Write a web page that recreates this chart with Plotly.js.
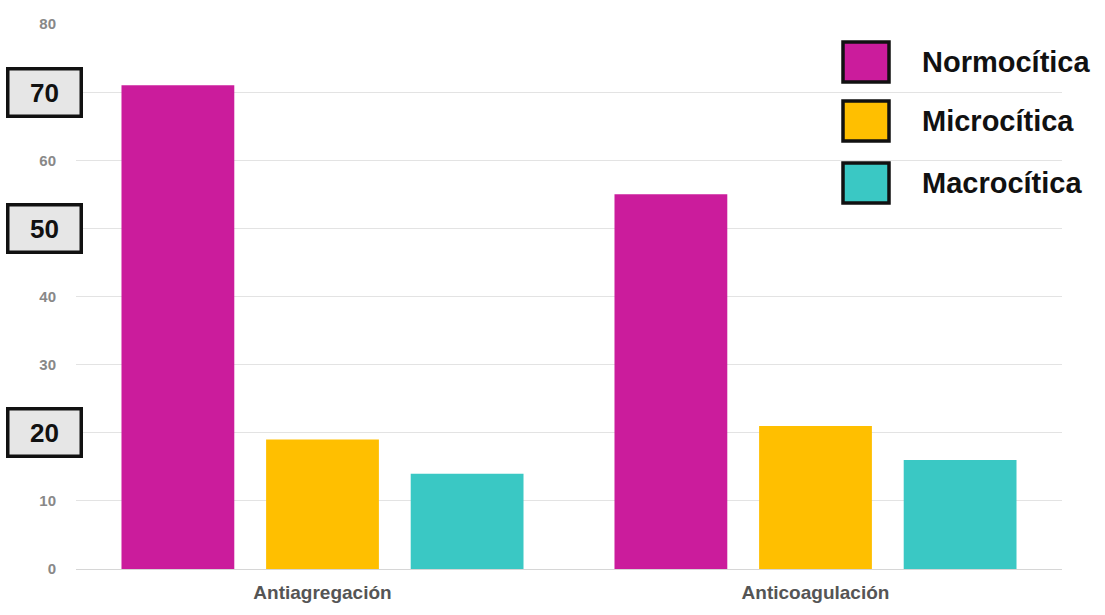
<!DOCTYPE html>
<html>
<head>
<meta charset="utf-8">
<script src="https://cdn.plot.ly/plotly-3.0.1.min.js"></script>
<style>
  html, body { margin: 0; padding: 0; background: #fff; }
  #chart { width: 1105px; height: 615px; }
</style>
</head>
<body>
<div id="chart"></div>
<script>
// Grupos de tratamiento y tipos de anemia
const categories = ['Antiagregación', 'Anticoagulación'];
const seriesNames = ['Normocítica', 'Microcítica', 'Macrocítica'];
const normocitica = [71, 55];
const microcitica = [19, 21];
const macrocitica = [14, 16];
const seriesValues = [normocitica, microcitica, macrocitica];
const seriesColors = ['#CB1C9C', '#FFBF00', '#3AC8C4'];

// Marcas del eje Y; las destacadas van en recuadro
const yTickVals = [0, 10, 20, 30, 40, 50, 60, 70, 80];
const yTickText = ['0', '10', '20', '30', '40', '50', '60', '70', '80'];
const highlightedTicks = [70, 50, 20];

const FONT = 'Liberation Sans, Arial, sans-serif';

const traces = seriesValues.map((vals, i) => ({
  type: 'bar',
  name: seriesNames[i],
  x: categories,
  y: vals,
  marker: { color: seriesColors[i] },
  hoverinfo: 'x+y+name',
  showlegend: false
}));

const plainText = yTickVals.map((v, i) => highlightedTicks.includes(v) ? '' : yTickText[i]);

const annotations = highlightedTicks.map(v => ({
  xref: 'paper', yref: 'y',
  x: -0.0315, y: v,
  xanchor: 'center', yanchor: 'middle',
  text: '<b>' + yTickText[yTickVals.indexOf(v)] + '</b>',
  showarrow: false,
  font: { family: FONT, size: 26, color: '#111' },
  bgcolor: '#E6E6E6',
  bordercolor: '#111',
  borderwidth: 3.5,
  borderpad: 2,
  width: 66,
  height: 40
}));

// Leyenda dibujada con cuadros grandes
const shapes = [];
const legendRowsPx = [62, 121, 183];
const plotL = 76, plotW = 986, plotB = 569, plotH = 545;
seriesNames.forEach((name, i) => {
  const cy = legendRowsPx[i];
  shapes.push({
    type: 'rect', xref: 'paper', yref: 'paper',
    x0: (843 - plotL) / plotW, x1: (889 - plotL) / plotW,
    y0: (plotB - (cy + 20)) / plotH, y1: (plotB - (cy - 20)) / plotH,
    fillcolor: seriesColors[i],
    line: { color: '#111', width: 3.5 }
  });
  annotations.push({
    xref: 'paper', yref: 'paper',
    x: (920 - plotL) / plotW, y: (plotB - cy) / plotH,
    xanchor: 'left', yanchor: 'middle',
    text: '<b>' + name + '</b>',
    showarrow: false,
    font: { family: FONT, size: 29, color: '#111' }
  });
});

const layout = {
  width: 1105, height: 615,
  margin: { l: 76, r: 43, t: 24, b: 46 },
  paper_bgcolor: '#fff',
  plot_bgcolor: '#fff',
  barmode: 'group',
  bargap: 0.12,
  bargroupgap: 0.22,
  showlegend: false,
  xaxis: {
    type: 'category',
    showgrid: false,
    showline: false,
    zeroline: false,
    ticks: '',
    ticklabelstandoff: 10,
    tickfont: { family: FONT, size: 19, color: '#555', weight: 'bold' }
  },
  yaxis: {
    range: [0, 80],
    tickvals: yTickVals,
    ticktext: plainText,
    showgrid: true,
    gridcolor: '#E3E3E3',
    gridwidth: 1,
    zeroline: true,
    zerolinecolor: '#D6D6D6',
    zerolinewidth: 1,
    showline: false,
    ticks: '',
    ticklabelstandoff: 19,
    tickfont: { family: FONT, size: 15, color: '#888', weight: 'bold' }
  },
  shapes: shapes,
  annotations: annotations
};

Plotly.newPlot('chart', traces, layout, { displayModeBar: false, staticPlot: true });
</script>
</body>
</html>
